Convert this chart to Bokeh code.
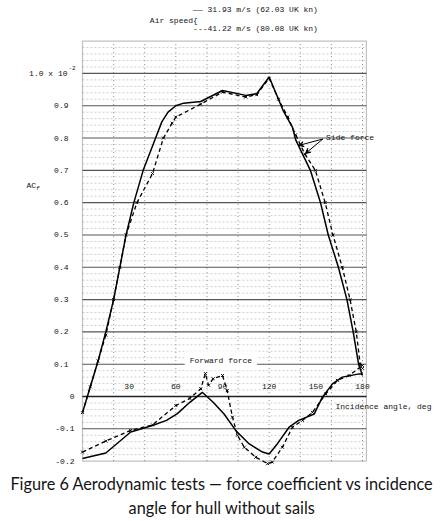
import numpy as np
from bokeh.plotting import figure
from bokeh.models import Label, Arrow, VeeHead, BoxAnnotation
from bokeh.embed import file_html
from bokeh.resources import INLINE

# ---- data ----
side_a1 = [0, 5, 10, 15, 20, 24, 28, 33, 39, 47, 51, 55, 60, 65, 76, 90, 105, 112, 120, 129, 135, 137, 146.5, 153, 158, 164.5, 170, 174, 177.5, 180]
side_v1 = [-0.05, 0.03, 0.11, 0.2, 0.3, 0.4, 0.5, 0.6, 0.7, 0.8, 0.85, 0.88, 0.9, 0.908, 0.913, 0.947, 0.932, 0.937, 0.989, 0.885, 0.833, 0.795, 0.7, 0.6, 0.5, 0.4, 0.3, 0.2, 0.1, 0.065]

side_a2 = [0, 5, 10, 15, 20, 24, 28, 35, 45, 52, 57.6, 60, 76, 90, 105, 112, 120, 126, 132, 137, 143, 149.7, 156, 161, 167, 172, 176, 178.5, 180]
side_v2 = [-0.05, 0.03, 0.11, 0.19, 0.3, 0.4, 0.5, 0.6, 0.69, 0.8, 0.846, 0.865, 0.905, 0.942, 0.927, 0.934, 0.985, 0.92, 0.865, 0.81, 0.75, 0.7, 0.6, 0.5, 0.4, 0.3, 0.2, 0.1, 0.087]

fwd_a1 = [0, 15, 31, 45, 54, 61, 69, 77, 84, 91, 98.5, 107, 115.7, 120, 125.3, 132.8, 139, 149, 154.2, 160.7, 167, 177.8, 180]
fwd_v1 = [-0.192, -0.175, -0.11, -0.09, -0.074, -0.053, -0.018, 0.013, -0.018, -0.054, -0.105, -0.146, -0.172, -0.178, -0.146, -0.095, -0.074, -0.054, -0.002, 0.039, 0.06, 0.07, 0.07]

fwd_a2 = [0, 15, 31, 45, 60, 69, 76, 79, 81, 84, 90, 93, 96.4, 99.6, 104, 111.4, 119, 122, 128.5, 135, 141.4, 147.8, 156.4, 163.9, 171.4, 180]
fwd_v2 = [-0.172, -0.138, -0.105, -0.088, -0.028, -0.006, 0.024, 0.071, 0.035, 0.055, 0.065, 0.018, -0.064, -0.12, -0.157, -0.188, -0.208, -0.203, -0.157, -0.095, -0.074, -0.049, 0.008, 0.05, 0.065, 0.096]

x_ticks = [30, 60, 90, 120, 150, 180]
y_ticks = [0.9, 0.8, 0.7, 0.6, 0.5, 0.4, 0.3, 0.2, 0.1, 0.0, -0.1, -0.2]
y_tick_labels = ["0.9", "0.8", "0.7", "0.6", "0.5", "0.4", "0.3", "0.2", "0.1", "0", "-0.1", "-0.2"]

speed1 = "\u2014\u2014 31.93 m/s (62.03 UK kn)"
speed2 = "---41.22 m/s (80.08 UK kn)"

# chart box limits (axis ranges of the drawn graph paper)
X_MIN, X_MAX = 0, 182.5
Y_MIN, Y_MAX = -0.2, 1.1
grid_major_y = [-0.1, 0.0, 0.1, 0.2, 0.3, 0.4, 0.5, 0.6, 0.7, 0.8, 0.9, 1.0]
grid_x = [20, 40, 60, 80, 100, 120, 140, 160, 180]
grid_minor_y = [v for v in np.round(np.arange(-0.18, 1.1, 0.02), 3) if abs(v * 10 - round(v * 10)) > 1e-6]

MONO = "Liberation Mono"
INK = "#141414"
FS = "8px"

p = figure(width=444, height=521, x_range=(-52.714, 232.714), y_range=(-0.3869, 1.2257),
           output_backend="svg", toolbar_location=None,
           min_border_left=0, min_border_right=0, min_border_top=0, min_border_bottom=0)
p.xaxis.visible = False
p.yaxis.visible = False
p.grid.visible = False
p.outline_line_color = None
p.background_fill_color = "white"
p.border_fill_color = "white"

# graph paper
p.segment(x0=X_MIN, y0=grid_minor_y, x1=X_MAX, y1=grid_minor_y, line_color="#cfcfcf", line_dash="2 2", line_width=1)
p.segment(x0=grid_x, y0=Y_MIN, x1=grid_x, y1=Y_MAX, line_color="#8a8a8a", line_dash="1 3", line_width=1)
p.segment(x0=X_MIN, y0=grid_major_y, x1=X_MAX, y1=grid_major_y, line_color="#555555", line_width=1.1)
p.segment(x0=X_MIN, y0=0, x1=X_MAX, y1=0, line_color="#222222", line_width=1.5)
p.add_layout(BoxAnnotation(left=X_MIN, right=X_MAX, bottom=Y_MIN, top=Y_MAX,
                           fill_alpha=0, line_color="#333333", line_width=1.2))

# curves
p.line(side_a1, side_v1, line_color="black", line_width=1.5)
p.line(side_a2, side_v2, line_color="black", line_width=1.3, line_dash="4 3")
p.scatter(side_a2, side_v2, marker="x", size=4, line_color="black", line_width=1)
p.line(fwd_a1, fwd_v1, line_color="black", line_width=1.5)
p.line(fwd_a2, fwd_v2, line_color="black", line_width=1.3, line_dash="4 3")
p.scatter(fwd_a2, fwd_v2, marker="x", size=4, line_color="black", line_width=1)

# x tick labels inside the plot
for t in x_ticks:
    p.add_layout(Label(x=t, y=0.032, text=str(t), text_font=MONO, text_font_size=FS,
                       text_align="center", text_baseline="middle", text_color=INK))

# y tick labels
for v, s in zip(y_ticks, y_tick_labels):
    off = -14 if v > 0 else -8
    p.add_layout(Label(x=X_MIN, y=v, x_offset=off, text=s, text_font=MONO, text_font_size=FS,
                       text_align="right", text_baseline="middle", text_color=INK))
p.add_layout(Label(x=X_MIN, y=1.0, x_offset=-15, text="1.0 x 10", text_font=MONO, text_font_size=FS,
                   text_align="right", text_baseline="middle", text_color=INK))
p.add_layout(Label(x=X_MIN, y=1.0, x_offset=-14, y_offset=5, text="-2", text_font=MONO, text_font_size="6px",
                   text_align="left", text_baseline="middle", text_color=INK))

# y axis title AC_f
p.add_layout(Label(x=X_MIN, y=0.653, x_offset=-56, text="AC", text_font=MONO, text_font_size=FS,
                   text_align="left", text_baseline="middle", text_color=INK))
p.add_layout(Label(x=X_MIN, y=0.653, x_offset=-46.5, y_offset=-2.5, text="f", text_font=MONO, text_font_size="6px",
                   text_align="left", text_baseline="middle", text_color=INK, text_font_style="italic"))

# legend texts at top
p.add_layout(Label(x=71.1, y=1.197, text=speed1, text_font=MONO, text_font_size=FS,
                   text_align="left", text_baseline="middle", text_color=INK))
p.add_layout(Label(x=43.3, y=1.165, text="Air speed{", text_font=MONO, text_font_size=FS,
                   text_align="left", text_baseline="middle", text_color=INK))
p.add_layout(Label(x=71.1, y=1.138, text=speed2, text_font=MONO, text_font_size=FS,
                   text_align="left", text_baseline="middle", text_color=INK))

# annotations
p.add_layout(Label(x=156.6, y=0.8025, text="Side force", text_font=MONO, text_font_size=FS,
                   text_align="left", text_baseline="middle", text_color=INK))
p.add_layout(Arrow(x_start=154.5, y_start=0.797, x_end=139, y_end=0.777, line_width=1,
                   end=VeeHead(size=5, line_width=1)))
p.add_layout(Arrow(x_start=154.5, y_start=0.797, x_end=143.3, y_end=0.752, line_width=1,
                   end=VeeHead(size=5, line_width=1)))
p.add_layout(Label(x=89.0, y=0.111, text="Forward force", text_font=MONO, text_font_size=FS,
                   text_align="center", text_baseline="middle", text_color=INK,
                   background_fill_color="white", padding=5))
p.add_layout(Label(x=162.6, y=-0.03, text="Incidence angle, deg", text_font=MONO, text_font_size=FS,
                   text_align="left", text_baseline="middle", text_color=INK))

# caption
p.add_layout(Label(x=89.7, y=-0.2684, text="Figure 6 Aerodynamic tests \u2014 force coefficient vs incidence",
                   text_font="Lato", text_font_size="16.3px", text_align="center", text_baseline="alphabetic",
                   text_color=INK))
p.add_layout(Label(x=89.7, y=-0.3427, text="angle for hull without sails",
                   text_font="Lato", text_font_size="16.3px", text_align="center", text_baseline="alphabetic",
                   text_color=INK))

open("out.html", "w").write(file_html(p, INLINE))
